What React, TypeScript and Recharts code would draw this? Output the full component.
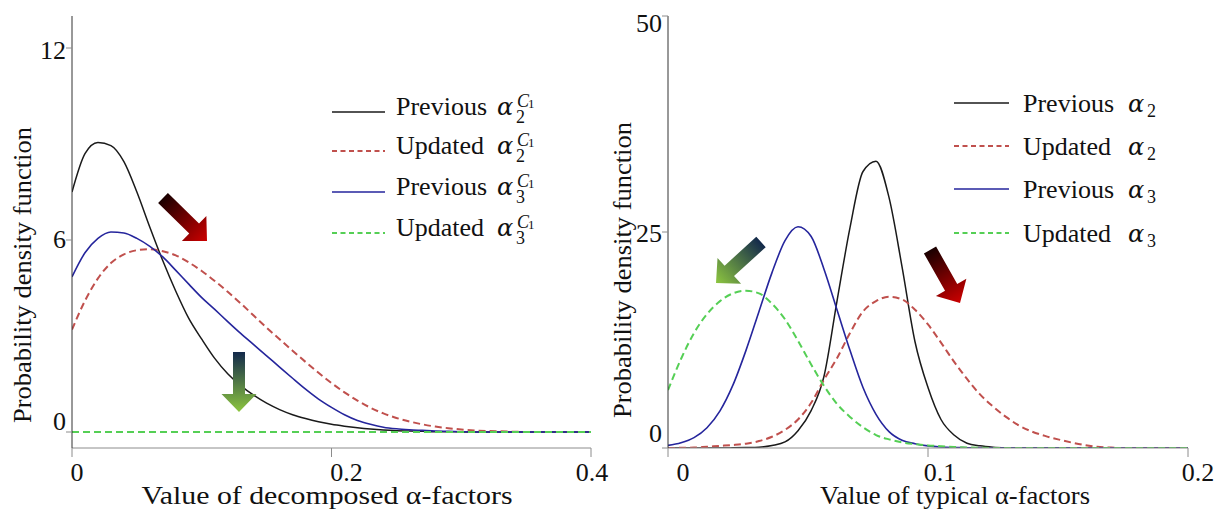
import React from "react";
import { LineChart, Line, XAxis, YAxis, Legend } from "recharts";

const FONT = '"Liberation Serif", "Times New Roman", Times, serif';
const MATH = '"DejaVu Serif", "Liberation Serif", serif';
const INK = "#111111";
const FRAME = "#8c8c8c";
const AXIS = "#333333";

// left panel: decomposed alpha-factors
const leftX = [
  0, 0.01, 0.02, 0.03, 0.04, 0.05, 0.06, 0.07, 0.08, 0.09, 0.1, 0.11, 0.12, 0.13,
  0.14, 0.15, 0.16, 0.17, 0.18, 0.19, 0.2, 0.21, 0.22, 0.23, 0.24, 0.25, 0.26, 0.27,
  0.28, 0.29, 0.3, 0.31, 0.32, 0.33, 0.34, 0.35, 0.36, 0.37, 0.38, 0.39, 0.4,
];
const leftPrevA2 = [
  7.5, 8.7, 9.05, 8.95, 8.45, 7.5, 6.4, 5.35, 4.4, 3.55, 2.9, 2.3, 1.82, 1.45,
  1.15, 0.9, 0.7, 0.54, 0.42, 0.32, 0.24, 0.18, 0.13, 0.09, 0.06, 0.04, 0.03, 0.02,
  0.01, 0.01, 0, 0, 0, 0, 0, 0, 0, 0, 0, 0, 0,
];
const leftUpdA2 = [
  3.2, 4.1, 4.8, 5.28, 5.55, 5.68, 5.71, 5.65, 5.52, 5.3, 5.03, 4.72, 4.38, 4.02,
  3.64, 3.26, 2.9, 2.54, 2.19, 1.85, 1.53, 1.24, 0.98, 0.76, 0.58, 0.44, 0.33, 0.24,
  0.17, 0.12, 0.08, 0.05, 0.03, 0.02, 0.01, 0, 0, 0, 0, 0, 0,
];
const leftPrevA3 = [
  4.85, 5.6, 6.05, 6.25, 6.22, 6.05, 5.8, 5.47, 5.05, 4.62, 4.2, 3.83, 3.45, 3.08,
  2.73, 2.38, 2.03, 1.68, 1.34, 1.03, 0.77, 0.54, 0.36, 0.24, 0.15, 0.1, 0.07, 0.05,
  0.03, 0.02, 0.01, 0, 0, 0, 0, 0, 0, 0, 0, 0, 0,
];
const leftUpdA3 = [
  0, 0, 0, 0, 0, 0, 0, 0, 0, 0, 0, 0, 0, 0, 0, 0, 0, 0, 0, 0, 0, 0, 0, 0, 0, 0, 0,
  0, 0, 0, 0, 0, 0, 0, 0, 0, 0, 0, 0, 0, 0,
];

// right panel: typical alpha-factors
const rightX = [
  0, 0.005, 0.01, 0.015, 0.02, 0.025, 0.03, 0.035, 0.04, 0.045, 0.05, 0.055, 0.06,
  0.065, 0.07, 0.075, 0.08, 0.085, 0.09, 0.095, 0.1, 0.105, 0.11, 0.115, 0.12, 0.125,
  0.13, 0.135, 0.14, 0.145, 0.15, 0.155, 0.16, 0.165, 0.17, 0.175, 0.18, 0.185, 0.19,
  0.195, 0.2,
];
const rightPrevA2 = [
  0, 0, 0, 0, 0, 0.02, 0.05, 0.1, 0.3, 0.7, 2.0, 4.3, 8.3, 17.0, 25.5, 32.0, 33.2,
  29.0, 21.0, 12.3, 7.0, 3.3, 1.5, 0.55, 0.25, 0.1, 0.03, 0, 0, 0, 0, 0, 0, 0, 0, 0,
  0, 0, 0, 0, 0,
];
const rightUpdA2 = [
  0, 0.02, 0.05, 0.15, 0.25, 0.35, 0.5, 0.8, 1.3, 2.1, 3.3, 5.2, 7.9, 10.4, 13.3,
  15.8, 17.0, 17.5, 17.2, 16.0, 14.3, 12.2, 10.0, 8.0, 6.2, 4.8, 3.6, 2.6, 1.9, 1.4,
  1.0, 0.65, 0.35, 0.15, 0.05, 0, 0, 0, 0, 0, 0,
];
const rightPrevA3 = [
  0.3, 0.6, 1.2, 2.35, 4.3, 7.3, 11.3, 15.8, 20.3, 24.0, 25.6, 24.5, 20.7, 16.0,
  11.3, 7.0, 3.9, 1.9, 0.9, 0.5, 0.25, 0.12, 0.06, 0.03, 0, 0, 0, 0, 0, 0, 0, 0, 0,
  0, 0, 0, 0, 0, 0, 0, 0,
];
const rightUpdA3 = [
  6.7, 10.3, 13.3, 15.5, 17.0, 17.9, 18.2, 17.9, 16.7, 14.9, 12.4, 9.7, 7.2, 5.1,
  3.6, 2.4, 1.5, 1.0, 0.65, 0.45, 0.3, 0.2, 0.12, 0.07, 0.03, 0, 0, 0, 0, 0, 0, 0, 0,
  0, 0, 0, 0, 0, 0, 0, 0,
];

const leftXTicks = [0, 0.2, 0.4];
const leftYTicks = [0, 6, 12];
const rightXTicks = [0, 0.1, 0.2];
const rightYTicks = [0, 25, 50];

const legendWords = ["Previous", "Updated", "Previous", "Updated"];
const legendSubs = ["2", "2", "3", "3"];

const leftData = leftX.map((x, i) => ({
  x,
  prevA2: leftPrevA2[i],
  updA2: leftUpdA2[i],
  prevA3: leftPrevA3[i],
  updA3: leftUpdA3[i],
}));
const rightData = rightX.map((x, i) => ({
  x,
  prevA2: rightPrevA2[i],
  updA2: rightUpdA2[i],
  prevA3: rightPrevA3[i],
  updA3: rightUpdA3[i],
}));

const series = [
  { key: "prevA2", color: "#1a1a1a", dash: undefined as string | undefined, width: 1.5 },
  { key: "updA2", color: "#c0504d", dash: "7 4", width: 2 },
  { key: "prevA3", color: "#25259c", dash: undefined, width: 1.6 },
  { key: "updA3", color: "#55cf55", dash: "7 4", width: 2 },
];

// label nudges, the original figure sets its tick labels slightly off the ticks
const leftXShift: Record<string, number> = { "0": 5, "0.2": 15, "0.4": 1 };
const leftYShift: Record<string, number> = { "0": -2, "6": 8, "12": 11 };
const rightXShift: Record<string, number> = { "0": 15, "0.1": 12, "0.2": 10 };
const rightYShift: Record<string, number> = { "0": -6, "25": 10, "50": 16 };

const xTick = (shift: Record<string, number>) => (p: any) => (
  <text
    x={p.x + (shift[String(p.payload.value)] ?? 0)}
    y={p.y + 24}
    textAnchor="middle"
    fontSize={26}
    fontFamily={FONT}
    fill={INK}
  >
    {p.payload.value}
  </text>
);

const yTick = (shift: Record<string, number>) => (p: any) => (
  <text
    x={p.x}
    y={p.y + (shift[String(p.payload.value)] ?? 0)}
    textAnchor="end"
    fontSize={26}
    fontFamily={FONT}
    fill={INK}
  >
    {p.payload.value}
  </text>
);

interface LegendLayout {
  rows: number[];
  lineX: [number, number];
  textX: number;
  alphaX: number;
  baseOff: number;
  withSup: boolean;
}

function MathLegend({ rows, lineX, textX, alphaX, baseOff, withSup }: LegendLayout) {
  return (
    <svg width={260} height={180} style={{ display: "block", overflow: "visible" }}>
      {series.map((s, i) => {
        const ly = rows[i];
        const b = ly + baseOff;
        return (
          <g key={s.key} fill={INK}>
            <line
              x1={lineX[0]}
              x2={lineX[1]}
              y1={ly}
              y2={ly}
              stroke={s.color}
              strokeWidth={s.width}
              strokeDasharray={s.dash ? "5 3.5" : undefined}
            />
            <text x={textX} y={b} fontSize={26} fontFamily={FONT}>
              {legendWords[i]}
            </text>
            <text x={alphaX} y={b} fontSize={24} fontStyle="italic" fontFamily={MATH}>
              α
            </text>
            {withSup ? (
              <>
                <text x={alphaX + 19} y={b + 8} fontSize={18} fontFamily={FONT}>
                  {legendSubs[i]}
                </text>
                <text x={alphaX + 20} y={b - 8} fontSize={18} fontStyle="italic" fontFamily={FONT}>
                  C
                </text>
                <text x={alphaX + 31} y={b - 7} fontSize={13} fontFamily={FONT}>
                  1
                </text>
              </>
            ) : (
              <text x={alphaX + 19} y={b + 5} fontSize={18} fontFamily={FONT}>
                {legendSubs[i]}
              </text>
            )}
          </g>
        );
      })}
    </svg>
  );
}

interface PanelProps {
  data: any[];
  width: number;
  margin: { top: number; right: number; bottom: number; left: number };
  xDomain: [number, number];
  yDomain: [number, number];
  xTicks: number[];
  yTicks: number[];
  xShift: Record<string, number>;
  yShift: Record<string, number>;
  legendPos: { left: number; top: number };
  legend: LegendLayout;
}

function Panel(props: PanelProps) {
  const { data, width, margin, xDomain, yDomain, xTicks, yTicks } = props;
  return (
    <LineChart width={width} height={509} data={data} margin={margin}>
      <XAxis
        dataKey="x"
        type="number"
        domain={xDomain}
        ticks={xTicks}
        allowDataOverflow
        height={50}
        tickSize={9}
        tickMargin={0}
        axisLine={{ stroke: FRAME }}
        tickLine={{ stroke: FRAME }}
        tick={xTick(props.xShift)}
      />
      <XAxis
        xAxisId="top"
        orientation="top"
        dataKey="x"
        type="number"
        domain={xDomain}
        height={0}
        tick={false}
        tickLine={false}
        axisLine={{ stroke: FRAME }}
      />
      <YAxis
        type="number"
        domain={yDomain}
        ticks={yTicks}
        allowDataOverflow
        width={60}
        tickSize={6}
        tickMargin={0}
        axisLine={{ stroke: AXIS }}
        tickLine={{ stroke: FRAME }}
        tick={yTick(props.yShift)}
      />
      <YAxis
        yAxisId="right"
        orientation="right"
        type="number"
        domain={yDomain}
        width={0}
        tick={false}
        tickLine={false}
        axisLine={{ stroke: FRAME }}
      />
      <Legend
        layout="horizontal"
        verticalAlign="middle"
        align="center"
        wrapperStyle={{ ...props.legendPos, width: 260, height: 180 }}
        content={() => <MathLegend {...props.legend} />}
      />
      {series.map((s) => (
        <Line
          key={s.key}
          dataKey={s.key}
          type="monotone"
          stroke={s.color}
          strokeWidth={s.width}
          strokeDasharray={s.dash}
          dot={false}
          activeDot={false}
          isAnimationActive={false}
        />
      ))}
    </LineChart>
  );
}

function arrowPoints(
  tx: number, ty: number, hx: number, hy: number,
  shaft: number, headW: number, headL: number,
): string {
  const dx = hx - tx;
  const dy = hy - ty;
  const len = Math.hypot(dx, dy);
  const ux = dx / len;
  const uy = dy / len;
  const nx = -uy;
  const ny = ux;
  const bx = hx - ux * headL;
  const by = hy - uy * headL;
  const s = shaft / 2;
  const h = headW / 2;
  const pts = [
    [tx + nx * s, ty + ny * s],
    [bx + nx * s, by + ny * s],
    [bx + nx * h, by + ny * h],
    [hx, hy],
    [bx - nx * h, by - ny * h],
    [bx - nx * s, by - ny * s],
    [tx - nx * s, ty - ny * s],
  ];
  return pts.map((p) => p.join(",")).join(" ");
}

const arrows = [
  { id: "a1", tail: [163, 198], tip: [207, 241], from: "#1a0000", to: "#cc0000", shaft: 14 },
  { id: "a2", tail: [239, 352], tip: [239, 412], from: "#13294b", to: "#8dc63f", shaft: 12 },
  { id: "a3", tail: [761, 242], tip: [716, 283], from: "#13294b", to: "#8dc63f", shaft: 14 },
  { id: "a4", tail: [930, 250], tip: [960, 303], from: "#1a0000", to: "#cc0000", shaft: 14 },
];

export default function App() {
  return (
    <div
      style={{
        position: "absolute",
        left: 0,
        top: 0,
        width: 1217,
        height: 509,
        background: "#ffffff",
        fontFamily: FONT,
      }}
    >
      <div style={{ position: "absolute", left: 0, top: 0 }}>
        <Panel
          data={leftData}
          width={620}
          margin={{ top: 16, right: 29, bottom: 11, left: 12 }}
          xDomain={[0, 0.4]}
          yDomain={[-0.5, 13]}
          xTicks={leftXTicks}
          yTicks={leftYTicks}
          xShift={leftXShift}
          yShift={leftYShift}
          legendPos={{ left: 320, top: 80 }}
          legend={{
            rows: [32, 71, 112, 153],
            lineX: [12, 65],
            textX: 76,
            alphaX: 177,
            baseOff: 3,
            withSup: true,
          }}
        />
      </div>
      <div style={{ position: "absolute", left: 600, top: 0 }}>
        <Panel
          data={rightData}
          width={617}
          margin={{ top: 16, right: 29, bottom: 11, left: 8 }}
          xDomain={[0, 0.2]}
          yDomain={[0, 50]}
          xTicks={rightXTicks}
          yTicks={rightYTicks}
          xShift={rightXShift}
          yShift={rightYShift}
          legendPos={{ left: 340, top: 80 }}
          legend={{
            rows: [23, 66, 109, 153],
            lineX: [14, 69],
            textX: 83,
            alphaX: 188,
            baseOff: 9,
            withSup: false,
          }}
        />
      </div>
      <svg
        width={1217}
        height={509}
        style={{ position: "absolute", left: 0, top: 0, pointerEvents: "none" }}
      >
        <defs>
          {arrows.map((a) => (
            <linearGradient
              key={a.id}
              id={a.id}
              gradientUnits="userSpaceOnUse"
              x1={a.tail[0]}
              y1={a.tail[1]}
              x2={a.tip[0]}
              y2={a.tip[1]}
            >
              <stop offset="0" stopColor={a.from} />
              <stop offset="1" stopColor={a.to} />
            </linearGradient>
          ))}
        </defs>
        {arrows.map((a) => (
          <polygon
            key={a.id}
            points={arrowPoints(a.tail[0], a.tail[1], a.tip[0], a.tip[1], a.shaft, 35, 18)}
            fill={`url(#${a.id})`}
          />
        ))}
        <g fontFamily={FONT} fill={INK} fontSize={26}>
          <text x={327} y={504} textAnchor="middle" textLength={371} lengthAdjust="spacingAndGlyphs">
            Value of decomposed α-factors
          </text>
          <text x={955} y={504} textAnchor="middle" textLength={270} lengthAdjust="spacingAndGlyphs">
            Value of typical α-factors
          </text>
          <text
            x={31}
            y={275}
            textAnchor="middle"
            transform="rotate(-90 31 275)"
            textLength={296}
            lengthAdjust="spacingAndGlyphs"
          >
            Probability density function
          </text>
          <text
            x={631}
            y={270}
            textAnchor="middle"
            transform="rotate(-90 631 270)"
            textLength={296}
            lengthAdjust="spacingAndGlyphs"
          >
            Probability density function
          </text>
        </g>
      </svg>
    </div>
  );
}
